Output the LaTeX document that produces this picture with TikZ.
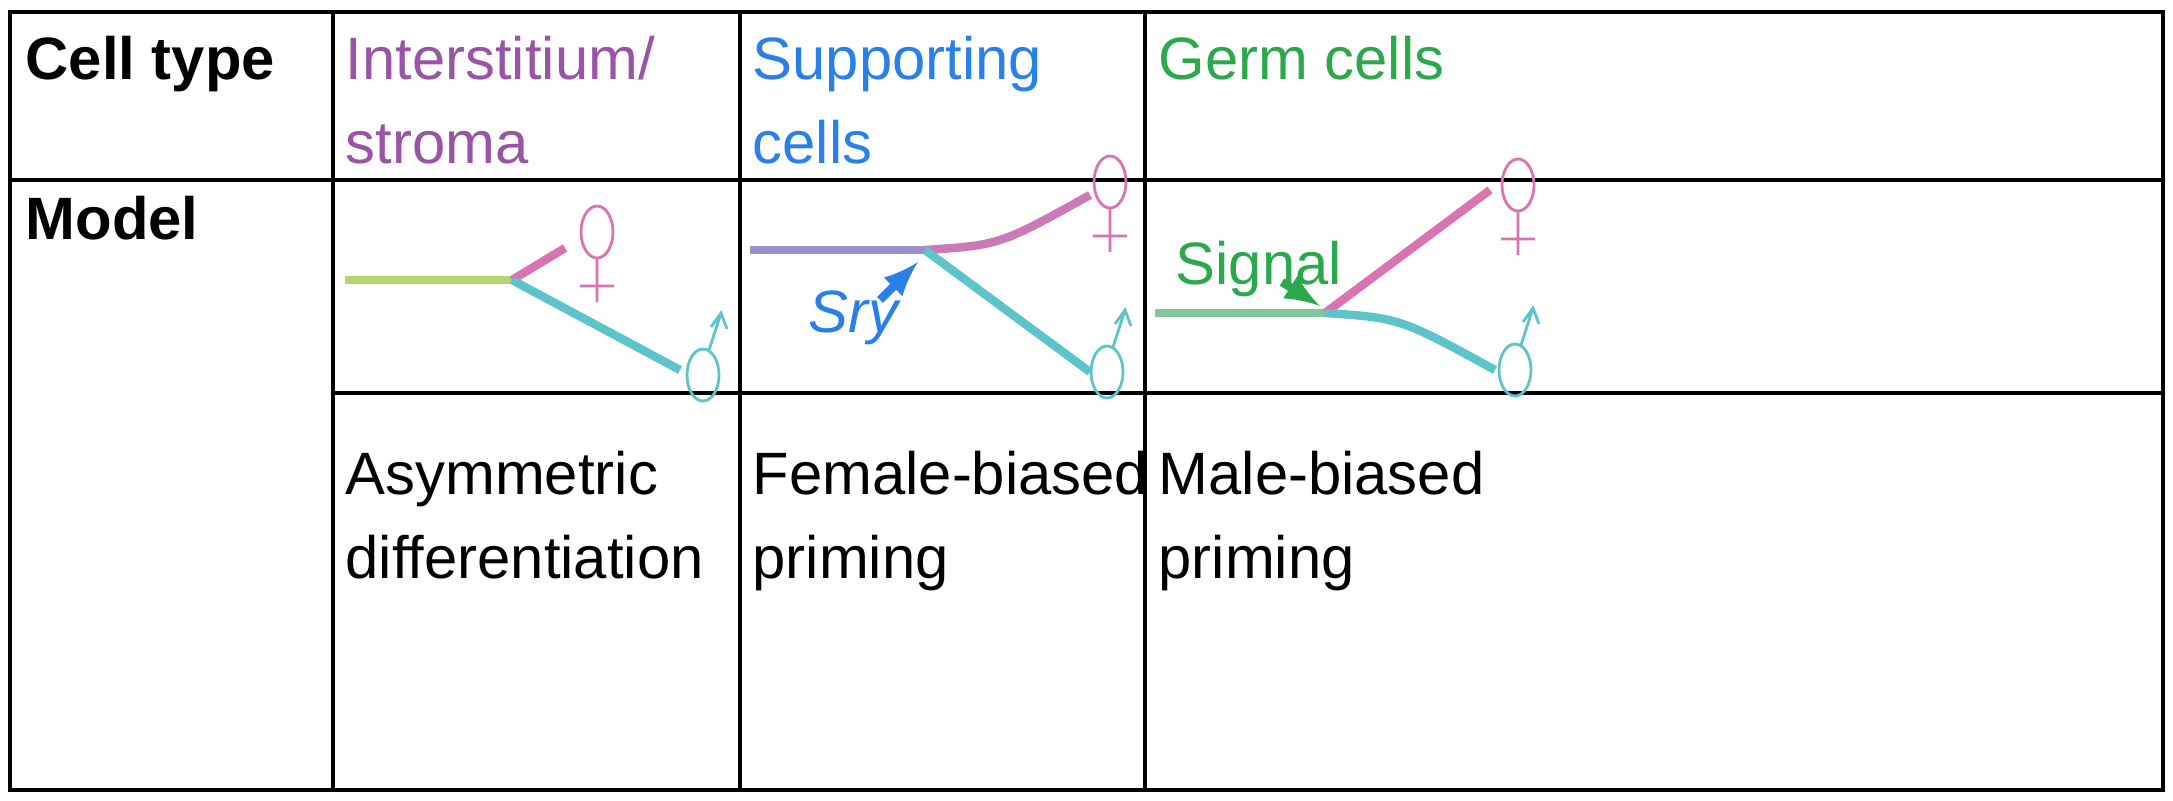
\documentclass[tikz,border=0pt]{standalone}
\usepackage{fontspec}
\setmainfont{Liberation Sans}
\usetikzlibrary{positioning}
\definecolor{stromapurple}{rgb}{0.60, 0.33, 0.65}
\definecolor{supblue}{rgb}{0.16, 0.50, 0.91}
\definecolor{germgreen}{rgb}{0.17, 0.66, 0.30}
\definecolor{lime}{rgb}{0.70, 0.84, 0.42}
\definecolor{fempink}{rgb}{0.85, 0.45, 0.70}
\definecolor{maleteal}{rgb}{0.37, 0.77, 0.80}
\definecolor{lavender}{rgb}{0.60, 0.57, 0.78}
\definecolor{mint}{rgb}{0.50, 0.78, 0.62}
\tikzset{
	femsym/.pic={\draw [fempink, line width=0.8pt] (0,0) ellipse [x radius=16, y radius=26] (0,26) -- (0,70) (-17,54) -- (17,54);},
	malesym/.pic={\draw [maleteal, line width=0.8pt] (0,0) ellipse [x radius=16, y radius=26] (6,-25) -- (18,-62) (8,-48) -- (18,-62) -- (24,-46);}
}
\begin{document}
\begin{tikzpicture}[x=0.01cm, y=-0.01cm,
		grid/.style={line width=1.3pt},
		celltext/.style={anchor=north west, align=left, font=\fontsize{17}{24}\selectfont, inner sep=0pt},
		branch/.style={line width=2.4pt},
		hint/.style={->, line width=2.4pt, >=latex}]
		\useasboundingbox (0,0) rectangle (2173,800);
		% table
		\draw [grid] (10,12) rectangle (2163,790);
		\foreach \x in {333, 740, 1145}
		{\draw [grid] (\x,12) -- (\x,790);}
		\draw [grid] (10,180) -- (2163,180);
		\draw [grid] (333,393) -- (2163,393);
		
		% headers
		\node [celltext, font=\fontsize{17}{24}\selectfont\bfseries] (celltype) at (25,35) {Cell type};
		\node [celltext, text=stromapurple] (stroma) at (345,35) {Interstitium/\\stroma};
		\node [celltext, text=supblue] (supporting) at (752,35) {Supporting\\cells};
		\node [celltext, text=germgreen] (germ) at (1158,35) {Germ cells};
		\node [celltext, font=\fontsize{17}{24}\selectfont\bfseries] (model) at (25,195) {Model};
		
		% bottom row
		\node [celltext] (asym) at (345,450) {Asymmetric\\differentiation};
		\node [celltext] (fembias) at (752,450) {Female-biased\\priming};
		\node [celltext] (malebias) at (1158,450) {Male-biased\\priming};
		
		% interstitium model
		\coordinate (s0) at (345,280);
		\coordinate (s1) at (512,280);
		\draw [branch, color=lime] (s0) -- (s1);
		\draw [branch, color=fempink] (s1) -- (565,248);
		\draw [branch, color=maleteal] (s1) -- (680,370);
		\pic at (597,232) {femsym};
		\pic at (703,375) {malesym};
		
		% supporting model
		\coordinate (p0) at (750,250);
		\coordinate (p1) at (925,250);
		\draw [branch, color=lavender] (p0) -- (p1);
		\draw [branch, color=fempink!80!lavender] (p1) .. controls (1000,245) .. (1090,195);
		\draw [branch, color=maleteal] (p1) -- (1090,372);
		\pic at (1110,182) {femsym};
		\pic at (1107,372) {malesym};
		\node [celltext, font=\fontsize{17}{24}\selectfont\itshape, text=supblue] (sry) at (808,290) {Sry};
		\draw [hint, color=supblue] (880,300) -- (918,262);
		
		% germ model
		\coordinate (g0) at (1155,313);
		\coordinate (g1) at (1325,313);
		\draw [branch, color=mint] (g0) -- (g1);
		\draw [branch, color=fempink] (g1) -- (1490,190);
		\draw [branch, color=maleteal] (g1) .. controls (1400,318) .. (1495,370);
		\pic at (1518,185) {femsym};
		\pic at (1515,370) {malesym};
		\node [celltext, text=germgreen] (signal) at (1175,240) {Signal};
		\draw [hint, color=germgreen] (1282,282) -- (1320,306);
	\end{tikzpicture}
\end{document}
